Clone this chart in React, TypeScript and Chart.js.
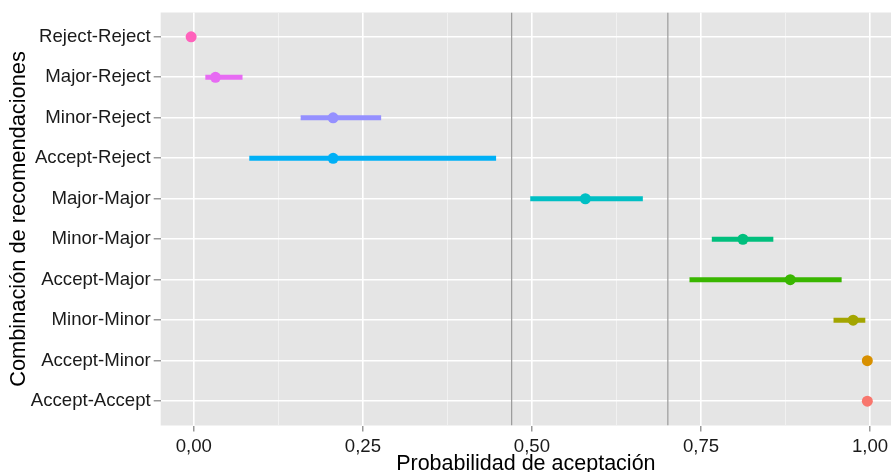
import React, { useEffect, useRef } from 'react';
import { Chart, registerables } from 'chart.js';

Chart.register(...registerables);

// ---- data ----
const categories = [
  'Reject-Reject',
  'Major-Reject',
  'Minor-Reject',
  'Accept-Reject',
  'Major-Major',
  'Minor-Major',
  'Accept-Major',
  'Minor-Minor',
  'Accept-Minor',
  'Accept-Accept',
];
const estimates = [-0.004, 0.032, 0.206, 0.206, 0.579, 0.812, 0.882, 0.975, 0.996, 0.996];
const lowerBounds = [-0.004, 0.017, 0.158, 0.082, 0.4975, 0.766, 0.733, 0.946, 0.996, 0.996];
const upperBounds = [-0.004, 0.072, 0.277, 0.447, 0.664, 0.857, 0.958, 0.993, 0.996, 0.996];
const seriesColors = [
  '#FF62BC',
  '#E76BF3',
  '#9590FF',
  '#00B0F6',
  '#00BFC4',
  '#00BF7D',
  '#39B600',
  '#A3A500',
  '#D89000',
  '#F8766D',
];
const referenceLines = [0.47, 0.701];
const xMajorTicks = [0, 0.25, 0.5, 0.75, 1];
const xMajorLabels = ['0,00', '0,25', '0,50', '0,75', '1,00'];
const xMinorTicks = [0.125, 0.375, 0.625, 0.875];
const xTitle = 'Probabilidad de aceptación';
const yTitle = 'Combinación de recomendaciones';

const FONT = "'Liberation Sans', Arial, Helvetica, sans-serif";

const panelBg = {
  id: 'panelBg',
  beforeDraw(chart: any) {
    const { ctx, chartArea } = chart;
    ctx.save();
    ctx.fillStyle = '#E5E5E5';
    ctx.fillRect(chartArea.left, chartArea.top, chartArea.right - chartArea.left, chartArea.bottom - chartArea.top);
    ctx.restore();
  },
};

const isMajor = (v: number) => xMajorTicks.some((m) => Math.abs(m - v) < 1e-6);

export default function App() {
  const ref = useRef<HTMLCanvasElement | null>(null);

  useEffect(() => {
    document.body.style.margin = '0';
    document.body.style.overflow = 'hidden';
    const canvas = ref.current;
    if (!canvas) return;

    const datasets: any[] = [];
    referenceLines.forEach((x) => {
      datasets.push({
        data: [
          { x, y: -0.6 },
          { x, y: categories.length - 0.4 },
        ],
        showLine: true,
        borderColor: '#9A9A9A',
        borderWidth: 1.2,
        pointRadius: 0,
        order: 3,
      });
    });
    categories.forEach((_, i) => {
      datasets.push({
        data: [
          { x: lowerBounds[i], y: i },
          { x: upperBounds[i], y: i },
        ],
        showLine: true,
        borderColor: seriesColors[i],
        borderWidth: 5,
        borderCapStyle: 'butt',
        pointRadius: 0,
        order: 2,
      });
    });
    datasets.push({
      data: estimates.map((x, i) => ({ x, y: i })),
      showLine: false,
      pointRadius: 5.5,
      pointBorderWidth: 0,
      pointBackgroundColor: seriesColors,
      order: 1,
    });

    const chart = new Chart(canvas, {
      type: 'scatter',
      data: { datasets },
      plugins: [panelBg],
      options: {
        animation: false,
        responsive: false,
        events: [],
        layout: { autoPadding: false, padding: { top: 12.5, left: 0, right: 0, bottom: 0 } },
        plugins: { legend: { display: false }, tooltip: { enabled: false } },
        scales: {
          x: {
            type: 'linear',
            min: -0.049,
            max: 1.031,
            afterBuildTicks: (scale: any) => {
              scale.ticks = [...xMajorTicks, ...xMinorTicks]
                .sort((a, b) => a - b)
                .map((value) => ({ value }));
            },
            afterFit: (scale: any) => {
              scale.height = 46.5;
              scale.paddingLeft = 0;
              scale.paddingRight = 0;
            },
            border: { display: false },
            grid: {
              color: (ctx: any) => (isMajor(ctx.tick?.value) ? '#FFFFFF' : '#F2F2F2'),
              lineWidth: (ctx: any) => (isMajor(ctx.tick?.value) ? 1.6 : 0.9),
              tickColor: (ctx: any) => (isMajor(ctx.tick?.value) ? '#7F7F7F' : 'rgba(0,0,0,0)'),
              tickLength: 6,
              tickWidth: 1.2,
            },
            ticks: {
              autoSkip: false,
              maxRotation: 0,
              padding: 4,
              color: '#1A1A1A',
              font: { family: FONT, size: 18.6 },
              callback: (value: any) => {
                const idx = xMajorTicks.findIndex((m) => Math.abs(m - Number(value)) < 1e-6);
                return idx >= 0 ? xMajorLabels[idx] : '';
              },
            },
            title: {
              display: true,
              text: xTitle,
              color: '#000000',
              font: { family: FONT, size: 21.5 },
              padding: { top: 0, bottom: -4.8 },
            },
          },
          y: {
            type: 'linear',
            reverse: true,
            min: -0.6,
            max: categories.length - 0.4,
            afterBuildTicks: (scale: any) => {
              scale.ticks = categories.map((_, i) => ({ value: i }));
            },
            afterFit: (scale: any) => {
              scale.width = 160.7;
              scale.paddingTop = 0;
              scale.paddingBottom = 0;
            },
            border: { display: false },
            grid: {
              color: '#FFFFFF',
              lineWidth: 1.6,
              tickColor: '#7F7F7F',
              tickLength: 7,
              tickWidth: 1.2,
            },
            ticks: {
              autoSkip: false,
              padding: 3,
              color: '#1A1A1A',
              font: { family: FONT, size: 18.6 },
              callback: (value: any) => categories[Math.round(Number(value))] ?? '',
            },
            title: {
              display: true,
              text: yTitle,
              color: '#000000',
              font: { family: FONT, size: 21.8 },
              padding: { top: 6, bottom: 0 },
            },
          },
        },
      },
    });

    return () => chart.destroy();
  }, []);

  return (
    <div style={{ position: 'relative', width: 891, height: 472 }}>
      <canvas ref={ref} width={891} height={472} style={{ display: 'block' }} />
    </div>
  );
}
